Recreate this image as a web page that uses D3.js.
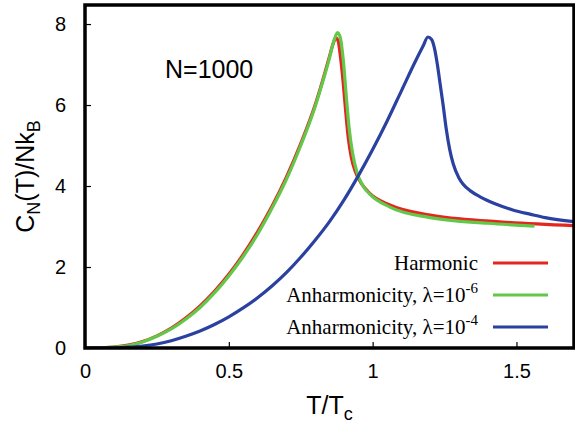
<!DOCTYPE html>
<html>
<head>
<meta charset="utf-8">
<script src="https://cdn.jsdelivr.net/npm/d3@7"></script>
<style>
  body { margin: 0; background: #fff; }
  svg text { font-family: "Liberation Sans", Arial, sans-serif; }
  .legend text { font-family: "Liberation Serif", "Times New Roman", serif; }
</style>
</head>
<body>
<svg id="chart" width="575" height="424"></svg>
<script>
// T/Tc vs C_N(T)/Nk_B
var harmonicT = [0, 0.05, 0.1, 0.15, 0.2, 0.25, 0.3, 0.35, 0.4, 0.45, 0.5, 0.55, 0.6, 0.65,
                 0.7, 0.75, 0.8, 0.83, 0.85, 0.862, 0.872, 0.88, 0.888, 0.897, 0.905, 0.915,
                 0.926, 0.94, 0.96, 0.99, 1.06, 1.2, 1.43, 1.7];
var harmonicC = [0, 0, 0.02, 0.07, 0.16, 0.3, 0.49, 0.74, 1.04, 1.4, 1.82, 2.31, 2.87, 3.5,
                 4.22, 5.05, 6.0, 6.7, 7.2, 7.5, 7.66, 7.58, 7.2, 6.6, 5.95, 5.2,
                 4.7, 4.35, 4.07, 3.82, 3.53, 3.28, 3.12, 3.02];

var anh6T = [0, 0.05, 0.1, 0.15, 0.2, 0.25, 0.3, 0.35, 0.4, 0.45, 0.5, 0.55, 0.6, 0.65,
             0.7, 0.75, 0.8, 0.83, 0.85, 0.865, 0.878, 0.888, 0.898, 0.908, 0.918, 0.93,
             0.945, 0.965, 0.99, 1.06, 1.2, 1.4, 1.5625];
var anh6C = [0, 0, 0.02, 0.06, 0.15, 0.29, 0.47, 0.71, 1.0, 1.36, 1.78, 2.26, 2.81, 3.45,
             4.16, 5.0, 5.96, 6.66, 7.16, 7.58, 7.79, 7.65, 7.1, 6.25, 5.45, 4.82,
             4.35, 4.02, 3.8, 3.48, 3.22, 3.08, 3.01];

var anh4T = [0, 0.05, 0.1, 0.15, 0.2, 0.25, 0.3, 0.35, 0.4, 0.45, 0.5, 0.55, 0.6, 0.65,
             0.7, 0.75, 0.8, 0.85, 0.9, 0.95, 1.0, 1.05, 1.1, 1.15, 1.175, 1.192, 1.205,
             1.215, 1.225, 1.235, 1.245, 1.256, 1.268, 1.28, 1.3, 1.314, 1.34, 1.372,
             1.43, 1.487, 1.55, 1.6, 1.7];
var anh4C = [0, 0, 0, 0.02, 0.05, 0.1, 0.18, 0.29, 0.42, 0.58, 0.77, 0.99, 1.24, 1.53,
             1.86, 2.24, 2.66, 3.12, 3.65, 4.25, 4.9, 5.6, 6.35, 7.1, 7.45, 7.68, 7.62,
             7.4, 7.0, 6.5, 6.0, 5.4, 4.9, 4.55, 4.2, 4.05, 3.88, 3.74,
             3.55, 3.41, 3.3, 3.22, 3.12];

var xTicks = [0, 0.5, 1, 1.5],
    xTickLabels = ["0", "0.5", "1", "1.5"];
var yTicks = [0, 2, 4, 6, 8],
    yTickLabels = ["0", "2", "4", "6", "8"];

var seriesNames = ["Harmonic", "Anharmonicity, \u03bb=10", "Anharmonicity, \u03bb=10"],
    seriesExp = ["", "-6", "-4"],
    seriesColors = ["#e3261f", "#62c84a", "#2b41a0"];

function zip(a, b) {
  var out = [];
  for (i = 0; i < a.length; i++) out.push([a[i], b[i]]);
  return out;
}

function drawChart() {
  var svg = d3.select("#chart");
  var left = 85, right = 574, top = 5, bottom = 348;

  var x = d3.scaleLinear().domain([0, 1.7]).range([left, right]);
  var y = d3.scaleLinear().domain([0, 8.47]).range([bottom, top]);

  var lineFn = d3.line()
      .x(function(d) { return x(d[0]); })
      .y(function(d) { return y(d[1]); })
      .curve(d3.curveMonotoneX);

  var plot = svg.append("g");
  plot.append("clipPath").attr("id", "clip")
    .append("rect")
      .attr("x", left).attr("y", top)
      .attr("width", right - left).attr("height", bottom - top);

  var series = [zip(harmonicT, harmonicC), zip(anh6T, anh6C), zip(anh4T, anh4C)];
  plot.selectAll("path.curve")
    .data(series)
    .enter().append("path")
      .attr("class", "curve")
      .attr("clip-path", "url(#clip)")
      .attr("d", lineFn)
      .attr("fill", "none")
      .attr("stroke", function(d, i) { return seriesColors[i]; })
      .attr("stroke-width", 3.2)
      .attr("stroke-linejoin", "round");

  // axes, ticks pointing inward
  var xAxis = d3.axisBottom(x).tickValues(xTicks)
      .tickFormat(function(d, i) { return xTickLabels[i]; })
      .tickSizeInner(-6).tickSizeOuter(0).tickPadding(16);
  var yAxis = d3.axisLeft(y).tickValues(yTicks)
      .tickFormat(function(d, i) { return yTickLabels[i]; })
      .tickSizeInner(-6).tickSizeOuter(0).tickPadding(19);

  var gx = svg.append("g").attr("transform", "translate(0," + bottom + ")").call(xAxis);
  var gy = svg.append("g").attr("transform", "translate(" + left + ",0)").call(yAxis);
  [gx, gy].forEach(function(g) {
    g.select(".domain").remove();
    g.selectAll(".tick line").attr("stroke", "#000").attr("stroke-width", 1.2);
    g.selectAll(".tick text")
      .attr("fill", "#000")
      .style("font-size", "20px")
      .style("font-family", "Liberation Sans, Arial, sans-serif");
  });

  // frame
  svg.append("rect")
    .attr("x", left).attr("y", top)
    .attr("width", right - left).attr("height", bottom - top)
    .attr("fill", "none")
    .attr("stroke", "#000")
    .attr("stroke-width", 3.5);

  // axis titles
  var xt = svg.append("text")
      .attr("x", (left + right) / 2).attr("y", 414)
      .attr("text-anchor", "middle")
      .style("font-size", "25px");
  xt.append("tspan").text("T/T");
  xt.append("tspan").attr("dy", 6).style("font-size", "18px").text("c");

  var yt = svg.append("text")
      .attr("transform", "translate(34," + (top + bottom) / 2 + ") rotate(-90)")
      .attr("text-anchor", "middle")
      .style("font-size", "25px");
  yt.append("tspan").text("C");
  yt.append("tspan").attr("dy", 6).style("font-size", "18px").text("N");
  yt.append("tspan").attr("dy", -6).text("(T)/Nk");
  yt.append("tspan").attr("dy", 6).style("font-size", "18px").text("B");

  svg.append("text")
    .attr("x", 165).attr("y", 78)
    .style("font-size", "25px")
    .text("N=1000");

  // legend
  var legend = svg.append("g").attr("class", "legend");
  var rows = legend.selectAll("g.row")
      .data(seriesNames)
      .enter().append("g")
        .attr("class", "row")
        .attr("transform", function(d, i) { return "translate(0," + (263 + i * 32) + ")"; });
  rows.append("line")
    .attr("x1", 493).attr("x2", 548)
    .attr("stroke", function(d, i) { return seriesColors[i]; })
    .attr("stroke-width", 3.2);
  var lt = rows.append("text")
      .attr("x", 478).attr("y", 7)
      .attr("text-anchor", "end")
      .style("font-size", "21px");
  lt.append("tspan").text(function(d) { return d; });
  lt.append("tspan")
    .attr("dy", -9)
    .style("font-size", "15px")
    .text(function(d, i) { return seriesExp[i]; });
}

drawChart();
</script>
</body>
</html>
